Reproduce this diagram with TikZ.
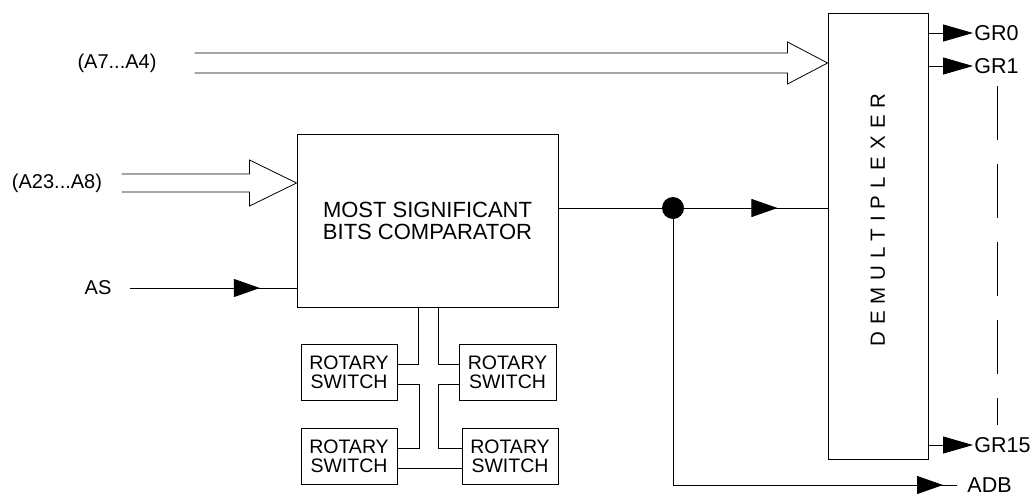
\documentclass[tikz,border=0pt]{standalone}
\usepackage{fontspec}
\setmainfont{Liberation Sans}
\usetikzlibrary{positioning,arrows.meta,calc,decorations.markings}

\begin{document}
\begin{tikzpicture}[
  x=1pt, y=-1pt,
  line width=0.9pt,
  font=\fontsize{20}{23}\selectfont,
  box/.style={
    draw, inner sep=0pt,
    align=center
  },
  lbl/.style={inner sep=1pt},
  outlbl/.style={inner sep=1pt, anchor=west, font=\fontsize{21.5}{24}\selectfont},
  bus/.style={line width=0.8pt},
  sig/.style={
    postaction={decorate},
    decoration={markings,
      mark=at position #1 with {\arrow{Triangle[length=26pt,width=18pt]}}}
  },
  grout/.style={-{Triangle[length=30pt,width=17pt]}},
]
\useasboundingbox (0,0) rectangle (1036,496);

% Main blocks.
\node[box, minimum width=100, minimum height=446] (demux) at (878,236) {};
\node[rotate=90, font=\fontsize{20.5}{23}\selectfont\addfontfeature{LetterSpace=34}]
  at ($(demux.center)+(0,-16)$) {DEMULTIPLEXER};
\node[box, minimum width=261, minimum height=173,
  font=\fontsize{22}{22}\selectfont] (cmp) at (427.5,220.5)
  {MOST SIGNIFICANT\\BITS COMPARATOR};

% Rotary switches under the comparator.
\node[box, minimum width=96, minimum height=56,
  font=\fontsize{19.5}{19}\selectfont] (sw1) at (349,372) {ROTARY\\SWITCH};
\node[box, minimum width=97, minimum height=56,
  font=\fontsize{19.5}{19}\selectfont] (sw2) at (507.5,372) {ROTARY\\SWITCH};
\node[box, minimum width=96, minimum height=56,
  font=\fontsize{19.5}{19}\selectfont] (sw3) at (349,456) {ROTARY\\SWITCH};
\node[box, minimum width=96, minimum height=56,
  font=\fontsize{19.5}{19}\selectfont] (sw4) at (510,456) {ROTARY\\SWITCH};

% Input labels.
\node[lbl] (lblA7) at (117,63) {(A7...A4)};
\node[lbl] (lblA23) at (57,183) {(A23...A8)};
\node[lbl] (lblAS) at (98,288) {AS};

% Output labels.
\node[outlbl] (gr0) at (973,33) {GR0};
\node[outlbl] (gr1) at (973,66) {GR1};
\node[outlbl] (gr15) at (973,445) {GR15};
\node[outlbl] (adb) at (966,485) {ADB};

% Bus arrows.
\coordinate (tipA) at (demux.west |- lblA7);
\draw[bus] ($(tipA)+(-633,-10)$) -- ($(tipA)+(-40,-10)$) -- ($(tipA)+(-40,-21)$)
  -- (tipA) -- ($(tipA)+(-40,21)$) -- ($(tipA)+(-40,10)$) -- ($(tipA)+(-633,10)$);
\coordinate (tipB) at (cmp.west |- lblA23);
\draw[bus] ($(tipB)+(-175,-9)$) -- ($(tipB)+(-47,-9)$) -- ($(tipB)+(-47,-23)$)
  -- (tipB) -- ($(tipB)+(-47,23)$) -- ($(tipB)+(-47,9)$) -- ($(tipB)+(-175,9)$);

% AS strobe.
\draw[sig=0.78] ($(lblAS.east)+(17,0)$) -- (cmp.west |- lblAS);

% Comparator output, split to demux and ADB.
\node[circle, fill, inner sep=0pt, minimum size=22] (dot) at (673,208) {};
\draw (cmp.east |- dot) -- (dot);
\draw[sig=0.65] (dot) -- (demux.west |- dot);
\coordinate (adbend) at (957,485);
\draw[sig=-14pt] (dot) |- (adbend);

% Demux outputs.
\draw[grout] (demux.east |- gr0) -- (gr0.west);
\draw[grout] (demux.east |- gr1) -- (gr1.west);
\draw[grout] (demux.east |- gr15) -- (gr15.west);
\draw[dash pattern=on 54pt off 24pt] (997,86) -- (997,425);

% Switch wiring.
\draw ($(cmp.south west)+(122,0)$) |- ($(sw1.east)+(0,-8)$);
\draw ($(sw1.east)+(0,12)$) -- ++(22,0) |- ($(sw3.east)+(0,-8)$);
\draw ($(sw3.east)+(0,12)$) -- ($(sw4.west)+(0,12)$);
\draw ($(cmp.south west)+(142,0)$) |- ($(sw2.west)+(0,-8)$);
\draw ($(sw2.west)+(0,12)$) -- ++(-20,0) |- ($(sw4.west)+(0,-8)$);

\end{tikzpicture}
\end{document}
